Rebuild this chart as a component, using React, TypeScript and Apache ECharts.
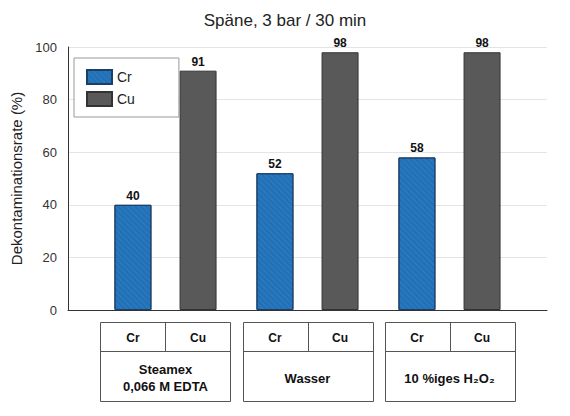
import React, { useEffect, useRef } from "react";
import * as echarts from "echarts";

const groups = ["Steamex\n0,066 M EDTA", "Wasser", "10 %iges H₂O₂"];
const metals = ["Cr", "Cu"];
const crValues = [40, 52, 58];
const cuValues = [91, 98, 98];
const yTicks = [0, 20, 40, 60, 80, 100];

const FONT = "'Liberation Sans', Arial, sans-serif";

export default function App() {
  const ref = useRef<HTMLDivElement>(null);
  useEffect(() => {
    const chart = echarts.init(ref.current!, null, { renderer: "svg" });
    const labelCfg = {
      show: true,
      position: "top",
      distance: 3,
      fontFamily: FONT,
      fontWeight: "bold",
      fontSize: 12,
      color: "#111",
      formatter: (p: any) => String(p.value[1]),
    };
    chart.setOption({
      animation: false,
      backgroundColor: "#fff",
      textStyle: { fontFamily: FONT },
      title: {
        text: "Späne, 3 bar / 30 min",
        left: "center",
        top: 7,
        textStyle: { fontFamily: FONT, fontSize: 17, fontWeight: "normal", color: "#222" },
      },
      legend: {
        data: metals,
        orient: "vertical",
        left: 74,
        top: 58,
        padding: [11, 44, 10, 12],
        itemWidth: 25,
        itemHeight: 14,
        itemGap: 6,
        backgroundColor: "#fff",
        borderColor: "#999",
        borderWidth: 1,
        borderRadius: 0,
        icon: "rect",
        textStyle: { fontFamily: FONT, fontSize: 14, color: "#222" },
      },
      grid: { left: 68, right: 23, top: 47, bottom: 106 },
      xAxis: {
        type: "value",
        min: -0.6866,
        max: 2.6866,
        axisLine: { show: true, onZero: false, lineStyle: { color: "#333", width: 1 } },
        axisTick: { show: false },
        axisLabel: { show: false },
        splitLine: { show: false },
      },
      yAxis: {
        type: "value",
        min: yTicks[0],
        max: yTicks[yTicks.length - 1],
        interval: yTicks[1] - yTicks[0],
        name: "Dekontaminationsrate (%)",
        nameLocation: "middle",
        nameGap: 43,
        nameTextStyle: { fontFamily: FONT, fontSize: 15, color: "#222" },
        axisLine: { show: true, onZero: false, lineStyle: { color: "#333", width: 1 } },
        axisTick: { show: false },
        axisLabel: { margin: 11, fontFamily: FONT, fontSize: 13, color: "#333" },
        splitLine: { show: true, lineStyle: { color: "#e4e4e4", width: 1 } },
      },
      series: [
        {
          name: "Cr",
          type: "bar",
          barWidth: 37,
          barGap: "76%",
          data: crValues.map((v, i) => [i, v]),
          itemStyle: {
            color: "#2171b9",
            borderColor: "#1d3f66",
            borderWidth: 1,
            decal: {
              symbol: "rect",
              symbolSize: 1,
              dashArrayX: [1, 0],
              dashArrayY: [1, 3],
              rotation: Math.PI / 4,
              color: "rgba(255,255,255,0.07)",
            },
          },
          label: labelCfg,
        },
        {
          name: "Cu",
          type: "bar",
          barWidth: 37,
          barGap: "76%",
          data: cuValues.map((v, i) => [i, v]),
          itemStyle: { color: "#595959", borderColor: "#333", borderWidth: 1 },
          label: labelCfg,
        },
        {
          type: "custom",
          clip: false,
          silent: true,
          data: groups.map((_, i) => [i, 0]),
          renderItem: (params: any, api: any) => {
            const i = api.value(0);
            const [cx, y0] = api.coord([i, 0]);
            const half = 65;
            const top = y0 + 12;
            const h = 79;
            const row = 29;
            const lineStyle = { stroke: "#555", lineWidth: 1, fill: null };
            const textStyle = (x: number, y: number, text: string, size: number) => ({
              type: "text",
              style: {
                x,
                y,
                text,
                align: "center",
                verticalAlign: "middle",
                fontFamily: FONT,
                fontWeight: "bold",
                fontSize: size,
                lineHeight: 17,
                fill: "#111",
              },
            });
            return {
              type: "group",
              children: [
                {
                  type: "rect",
                  shape: { x: Math.round(cx - half) + 0.5, y: Math.round(top) + 0.5, width: half * 2, height: h },
                  style: { stroke: "#555", lineWidth: 1, fill: "#fff" },
                },
                {
                  type: "line",
                  shape: {
                    x1: Math.round(cx - half) + 0.5,
                    y1: Math.round(top + row) + 0.5,
                    x2: Math.round(cx + half) + 0.5,
                    y2: Math.round(top + row) + 0.5,
                  },
                  style: lineStyle,
                },
                {
                  type: "line",
                  shape: {
                    x1: Math.round(cx) + 0.5,
                    y1: Math.round(top) + 0.5,
                    x2: Math.round(cx) + 0.5,
                    y2: Math.round(top + row) + 0.5,
                  },
                  style: lineStyle,
                },
                textStyle(cx - half / 2, top + row / 2 + 1, metals[0], 12),
                textStyle(cx + half / 2, top + row / 2 + 1, metals[1], 12),
                textStyle(cx, top + row + (h - row) / 2 + 2, groups[i], 13),
              ],
            };
          },
        },
      ],
    });
    return () => chart.dispose();
  }, []);
  return (
    <div
      ref={ref}
      style={{ width: 570, height: 416, position: "fixed", left: 0, top: 0 }}
    />
  );
}
